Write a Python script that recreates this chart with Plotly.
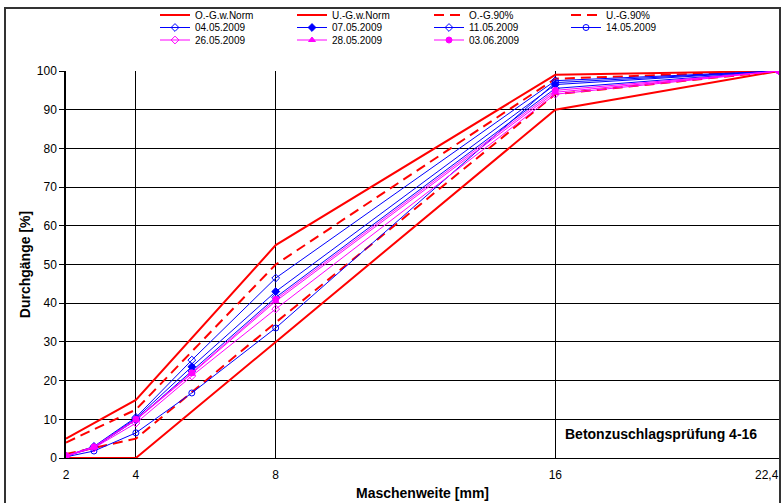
import plotly.graph_objects as go

# Sieve sizes (mm)
x_limits = [2, 4, 8, 16, 22.4]
x_sieves = [2, 2.8, 4, 5.6, 8, 16, 22.4]

# Grading limits (% passing)
og_norm = [5, 15, 55, 99, 100]
ug_norm = [0, 0, 30, 90, 100]
og_90 = [4, 12.5, 50, 98, 100]
ug_90 = [1, 5, 35, 94, 100]

# Test results (% passing)
dates = ["04.05.2009", "07.05.2009", "11.05.2009", "14.05.2009",
         "26.05.2009", "28.05.2009", "03.06.2009"]
s_0405 = [0.5, 3.0, 10.5, 25.3, 46.5, 97.5, 100]
s_0705 = [0.5, 2.8, 10.2, 23.6, 43.0, 96.5, 100]
s_1105 = [0.5, 2.7, 9.8, 22.5, 41.5, 95.5, 100]
s_1405 = [0.3, 1.8, 6.5, 16.8, 33.6, 97.0, 100]
s_2605 = [0.5, 2.6, 9.0, 21.2, 38.5, 94.0, 100]
s_2805 = [0.6, 2.8, 9.8, 21.8, 40.5, 94.5, 100]
s_0306 = [0.6, 2.9, 10.0, 22.0, 41.0, 95.0, 100]
series = [s_0405, s_0705, s_1105, s_1405, s_2605, s_2805, s_0306]

x_tickvals = [2, 4, 8, 16]
x_ticktext = ["2", "4", "8", "16"]
x_last_val = 22.4
x_last_text = "22,4"
y_tickvals = [0, 10, 20, 30, 40, 50, 60, 70, 80, 90, 100]

BLUE = "#0000ff"
MAG = "#ff00ff"
RED = "#ff0000"
colors = [BLUE, BLUE, BLUE, BLUE, MAG, MAG, MAG]
symbols = ["diamond-open", "diamond", "diamond-open", "circle-open",
           "diamond-open", "triangle-up", "circle"]
series_legends = ["legend2"] * 4 + ["legend3"] * 3
DASH = "10px,6px"

fig = go.Figure()
fig.add_trace(go.Scatter(x=x_limits, y=og_norm, mode="lines", name="O.-G.w.Norm",
                         line=dict(color=RED, width=2), legend="legend"))
fig.add_trace(go.Scatter(x=x_limits, y=ug_norm, mode="lines", name="U.-G.w.Norm",
                         line=dict(color=RED, width=2), legend="legend"))
fig.add_trace(go.Scatter(x=x_limits, y=og_90, mode="lines", name="O.-G.90%",
                         line=dict(color=RED, width=2, dash=DASH), legend="legend"))
fig.add_trace(go.Scatter(x=x_limits, y=ug_90, mode="lines", name="U.-G.90%",
                         line=dict(color=RED, width=2, dash=DASH), legend="legend"))
for name, vals, c, s, lg in zip(dates, series, colors, symbols, series_legends):
    fig.add_trace(go.Scatter(x=x_sieves, y=vals, mode="lines+markers", name=name,
                             line=dict(color=c, width=1), legend=lg,
                             marker=dict(color=c, symbol=s, size=6,
                                         line=dict(color=c, width=1))))

L, R, T, B = 66, 3, 71, 45
W, H = 782, 503
pw, ph = W - L - R, H - T - B

def px2paper_x(px):
    return (px - L) / pw

def px2paper_y(py):
    return (H - B - py) / ph

def legend_row(py):
    return dict(orientation="h", x=px2paper_x(155), xanchor="left",
                y=px2paper_y(py), yanchor="middle",
                entrywidth=92, entrywidthmode="pixels",
                font=dict(size=10, family="Liberation Sans, Arial, sans-serif"),
                bgcolor="rgba(0,0,0,0)", itemwidth=30, borderwidth=0)

fig.update_layout(
    width=W, height=H,
    margin=dict(l=L, r=R, t=T, b=B, autoexpand=False),
    paper_bgcolor="white", plot_bgcolor="white",
    font=dict(family="Liberation Sans, Arial, sans-serif", size=12, color="black"),
    showlegend=True,
    legend=legend_row(15),
    legend2=legend_row(27.5),
    legend3=legend_row(40),
    xaxis=dict(range=[2, 22.4], tickvals=x_tickvals, ticktext=x_ticktext,
               showgrid=True, gridcolor="black", gridwidth=1,
               showline=True, linecolor="black", linewidth=1,
               zeroline=False, ticks="outside", ticklen=6, tickcolor="rgba(0,0,0,0)",
               tickfont=dict(size=12), automargin=False,
               title=dict(text="<b>Maschenweite [mm]</b>", font=dict(size=14), standoff=6)),
    yaxis=dict(range=[0, 100], tickvals=y_tickvals,
               showgrid=True, gridcolor="black", gridwidth=1,
               showline=True, linecolor="black", linewidth=1.5,
               zeroline=False, ticks="outside", ticklen=5, tickcolor="black",
               tickfont=dict(size=12), automargin=False,
               title=dict(text="<b>Durchgänge [%]</b>", font=dict(size=14), standoff=3)),
    shapes=[dict(type="rect", xref="paper", yref="paper",
                 x0=px2paper_x(5), x1=px2paper_x(780),
                 y0=px2paper_y(510), y1=px2paper_y(8),
                 line=dict(color="#333333", width=2), fillcolor="rgba(0,0,0,0)")],
    annotations=[
        dict(text="<b>Betonzuschlagsprüfung 4-16</b>", xref="paper", yref="paper",
             x=px2paper_x(563), y=px2paper_y(434), xanchor="left", yanchor="middle",
             showarrow=False, font=dict(size=14), bgcolor="white"),
        dict(text=x_last_text, xref="x", yref="paper", x=x_last_val, xshift=2,
             y=px2paper_y(475), xanchor="right", yanchor="middle",
             showarrow=False, font=dict(size=12)),
    ],
)

fig.write_html("out.html")
